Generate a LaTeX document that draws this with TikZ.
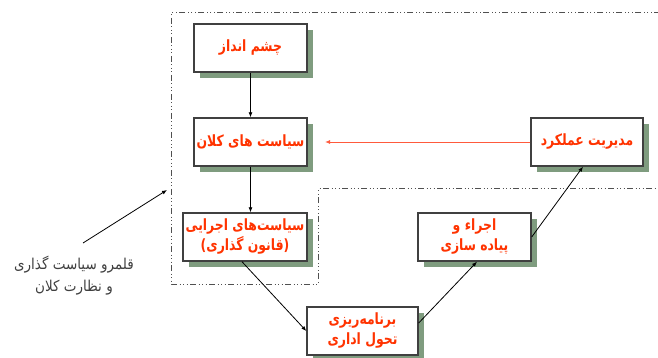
\documentclass[tikz,border=0pt]{standalone}
\usepackage{fontspec}
\usetikzlibrary{shadows,arrows.meta}
\TeXXeTstate=1
\newfontfamily\arabicfont[Script=Arabic]{DejaVu Sans}
\newfontfamily\arabicnarrow[Script=Arabic,FakeStretch=0.8]{DejaVu Sans}
\newfontfamily\arabiclabel[Script=Arabic,FakeStretch=0.9]{DejaVu Sans}
\definecolor{shadowgreen}{HTML}{7F9C7F}
\definecolor{textred}{HTML}{FF3300}
\definecolor{arrred}{HTML}{FF5A3C}
\definecolor{framegray}{HTML}{505050}
\definecolor{labelgray}{HTML}{404040}
\newcommand{\rtl}[1]{\beginR #1\endR}
\tikzset{
  box/.style={draw=black!75, line width=1.4pt, fill=white, minimum height=48pt,
    align=center, inner sep=0pt, text=textred, font=\arabicnarrow\bfseries\fontsize{15.5}{20}\selectfont,
    drop shadow={shadow xshift=6pt, shadow yshift=-6pt, fill=shadowgreen, opacity=1}},
  conn/.style={draw=black, line width=0.8pt, -{Latex[length=5pt,width=4pt]}},
  redconn/.style={draw=arrred, line width=0.9pt, -{Latex[length=5pt,width=4pt]}},
  region/.style={draw=framegray, line width=1pt,
    dash pattern=on 6pt off 2.5pt on 1pt off 2.5pt on 1pt off 2.5pt on 1pt off 2.5pt}
}
\begin{document}
\begin{tikzpicture}[x=1pt,y=-1pt]
\useasboundingbox (0,0) rectangle (658,358);
\draw[region] (660,13) -- (171,13) -- (171,284) -- (318,284) -- (318,189) -- (660,189);
\node[box, minimum width=113pt] (b1) at (250.5,48) {\rtl{چشم انداز}};
\node[box, minimum width=113pt] (b2) at (250.5,142) {\rtl{سیاست های کلان}};
\node[box, minimum width=112pt] (b3) at (587,142) {\rtl{مدیریت عملکرد}};
\node[box, minimum width=124pt] (b4) at (245,237) {\rtl{سیاست‌های اجرایی}\\\rtl{(قانون گذاری)}};
\node[box, minimum width=113pt] (b5) at (474.5,237) {\rtl{اجراء و}\\\rtl{پیاده سازی}};
\node[box, minimum width=111pt] (b6) at (362.5,331) {\rtl{برنامه‌ریزی}\\\rtl{تحول اداری}};
\node[align=center, text=labelgray, font=\arabiclabel\fontsize{15}{22}\selectfont] (lab) at (74,276) {\rtl{قلمرو سیاست گذاری}\\\rtl{و نظارت کلان}};
\coordinate (redend) at (325,142);
\coordinate (labstart) at (83,243);
\coordinate (labend) at (167,190);
\draw[conn] (b1) -- (b2);
\draw[conn] (b2.south) -- (b2.south |- b4.north);
\draw[redconn] (b3.west) -- (redend);
\draw[conn] ([xshift=-3pt]b4.south) -- (b6.west);
\draw[conn] ([yshift=8pt]b6.east) -- ([xshift=2.5pt]b5.south);
\draw[conn] (b5.east) -- ([xshift=-4pt]b3.south);
\draw[conn] (labstart) -- (labend);
\end{tikzpicture}
\end{document}
